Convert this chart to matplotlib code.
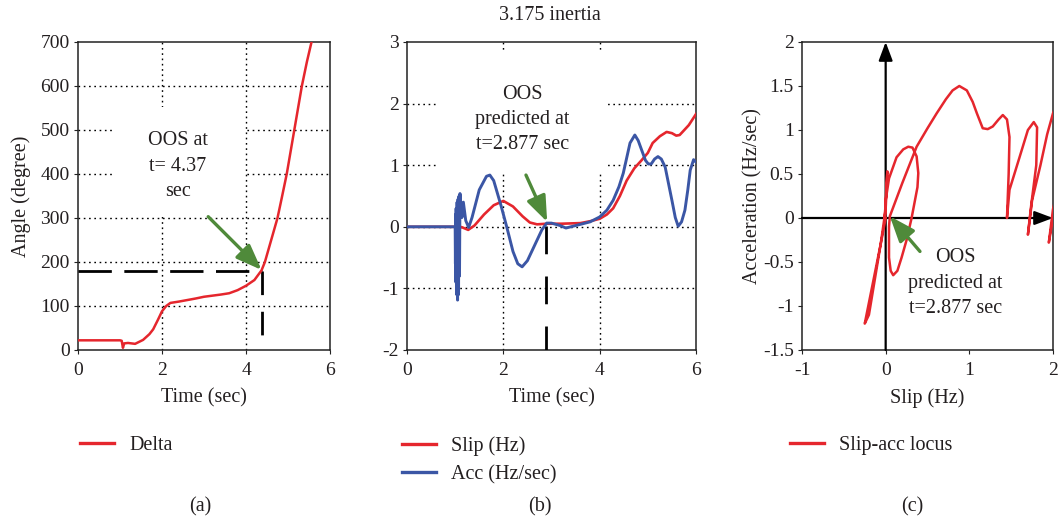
import matplotlib
matplotlib.use("Agg")
import matplotlib.pyplot as plt
from matplotlib.patches import Rectangle

plt.rcParams['font.family'] = ['Liberation Serif', 'DejaVu Serif']
plt.rcParams['font.size'] = 14
plt.rcParams['lines.scale_dashes'] = False
plt.rcParams['axes.unicode_minus'] = False

RED = '#e5262d'
BLUE = '#3b56a5'
GREEN = '#4f8a3a'
TXT = '#231f20'
FS = 14.5

# ---------------- data ----------------
# (a) rotor angle
delta_t = [0, 0.5, 1.0, 1.04, 1.07, 1.1, 1.19, 1.36, 1.55, 1.7, 1.79, 1.9, 2.0, 2.1, 2.2,
           2.4, 2.8, 3.0, 3.4, 3.6, 3.8, 4.0, 4.2, 4.37, 4.45, 4.6, 4.75, 4.85,
           4.97, 5.06, 5.15, 5.24, 5.33, 5.45, 5.56, 5.62]
delta_deg = [22, 22, 22, 21, 5, 15, 16, 14, 23, 36, 47, 68, 88, 100, 107,
             110, 117, 121, 126, 129, 136, 146, 159, 181, 200, 250, 300, 345,
             400, 450, 500, 550, 600, 655, 700, 730]

# (b) slip and acceleration
slip_t = [0, 1.0, 1.1, 1.15, 1.27, 1.4, 1.6, 1.8, 2.0, 2.2, 2.4, 2.55, 2.7, 2.9,
          3.2, 3.6, 3.8, 4.0, 4.15, 4.28, 4.42, 4.56, 4.72, 4.87, 5.0, 5.1, 5.25,
          5.39, 5.5, 5.59, 5.66, 5.72, 5.85, 6.0]
slip_hz = [0, 0, 0, -0.01, -0.05, 0.02, 0.2, 0.35, 0.42, 0.33, 0.17, 0.07, 0.04, 0.05,
           0.05, 0.06, 0.09, 0.13, 0.2, 0.3, 0.5, 0.75, 0.95, 1.08, 1.2, 1.36, 1.47,
           1.54, 1.52, 1.48, 1.49, 1.54, 1.65, 1.83]

acc_t = [0, 1.0, 1.005, 1.01, 1.015, 1.02, 1.03, 1.04, 1.05, 1.06, 1.07, 1.08, 1.09,
         1.1, 1.14, 1.17, 1.22, 1.28,
         1.35, 1.5, 1.65, 1.72, 1.8, 1.95, 2.07, 2.2, 2.3, 2.39, 2.5, 2.65, 2.8, 2.9,
         3.0, 3.18, 3.3, 3.5, 3.8, 4.0, 4.15, 4.28, 4.4, 4.49, 4.63, 4.73, 4.8, 4.87,
         4.95, 5.01, 5.07, 5.14, 5.21, 5.28, 5.36, 5.43, 5.5, 5.57, 5.63, 5.7, 5.77,
         5.83, 5.88, 5.95, 6.0]
acc_hz_s = [0, 0, -0.6, 0.2, -0.9, 0.3, -1.1, 0.4, -1.19, 0.45, -1.1, 0.5, -0.8,
            0.54, 0.15, 0.4, 0.1, -0.01,
            0.15, 0.6, 0.82, 0.84, 0.75, 0.35, 0.0, -0.4, -0.6, -0.65, -0.55, -0.3, -0.05, 0.06,
            0.06, 0.02, -0.02, 0.02, 0.08, 0.16, 0.27, 0.43, 0.65, 0.87, 1.36, 1.49, 1.4, 1.25,
            1.08, 1.02, 1.02, 1.1, 1.14, 1.1, 0.97, 0.7, 0.43, 0.15, 0.01, 0.08, 0.27,
            0.6, 0.92, 1.09, 1.05]

# (c) slip-acceleration locus
locus_slip = [0.0, -0.05, -0.25, -0.2, -0.06, 0.0, 0.02, 0.0, -0.01, 0.0, 0.04, 0.13,
              0.21, 0.27, 0.32, 0.37, 0.39, 0.38, 0.35, 0.31, 0.25, 0.19, 0.14, 0.09,
              0.06, 0.04, 0.04, 0.05, 0.2, 0.37, 0.5, 0.61, 0.72,
              0.80, 0.88, 0.97, 1.04, 1.09, 1.16, 1.22, 1.28, 1.35, 1.40, 1.45, 1.48,
              1.47, 1.45, 1.48, 1.60, 1.70, 1.77, 1.81, 1.80, 1.74, 1.70, 1.75, 1.85,
              1.93, 2.0, 2.05, 2.1, 2.05, 2.0, 1.95, 2.0, 2.05]
locus_acc = [0.0, -0.25, -1.2, -1.1, -0.3, 0.1, 0.53, 0.2, 0.0, 0.2, 0.45, 0.69,
             0.78, 0.81, 0.8, 0.7, 0.51, 0.35, 0.2, 0.0, -0.25, -0.45, -0.6, -0.65,
             -0.6, -0.45, -0.1, 0.02, 0.4, 0.81, 1.02, 1.19, 1.35,
             1.45, 1.5, 1.45, 1.32, 1.19, 1.02, 1.01, 1.04, 1.12, 1.17, 1.12, 0.92,
             0.5, 0.0, 0.32, 0.69, 1.0, 1.09, 1.03, 0.6, 0.15, -0.19, 0.2, 0.6,
             0.95, 1.19, 1.3, 0.8, 0.3, 0.1, -0.28, 0.0, 0.3]

oos_a = (4.37, 180)
oos_b = 2.877

# ---------------- figure ----------------
W, H = 1060, 521
fig = plt.figure(figsize=(W / 100, H / 100), dpi=100)


def add_ax(l, r, t=42, b=350):
    return fig.add_axes([l / W, (H - b) / H, (r - l) / W, (b - t) / H])


axa = add_ax(78, 330)
axb = add_ax(407, 696)
axc = add_ax(802, 1053)

grid_kw = dict(color='k', linewidth=1.0, linestyle=(0, (1.2, 2.6)))


def hide_edge_grid(ax):
    for axis, lims in ((ax.xaxis, ax.get_xlim()), (ax.yaxis, ax.get_ylim())):
        locs = axis.get_majorticklocs()
        for tick, loc in zip(axis.get_major_ticks(), locs):
            if abs(loc - lims[0]) < 1e-9 or abs(loc - lims[1]) < 1e-9:
                tick.gridline.set_visible(False)


for ax in (axa, axb, axc):
    for s in ax.spines.values():
        s.set_linewidth(1.1)
        s.set_color('#222222')
    ax.tick_params(direction='out', length=3, width=0.8, colors='#222222',
                   labelcolor=TXT, labelsize=14, pad=3)
    ax.tick_params(axis='x', pad=5.5)
    ax.set_axisbelow(True)

arrow_green = dict(arrowstyle='-|>,head_length=1.3,head_width=0.5', mutation_scale=12,
                   color=GREEN, lw=2.4, shrinkA=0, shrinkB=0)
LS = 1.45

# ---- (a)
axa.plot(delta_t, delta_deg, color=RED, lw=1.8, label='Delta', zorder=3)
axa.set_xlim(0, 6)
axa.set_ylim(0, 700)
axa.set_xticks([0, 2, 4, 6])
axa.set_yticks(range(0, 701, 100))
axa.grid(True, **grid_kw)
hide_edge_grid(axa)
axa.add_patch(Rectangle((0.87, 302), 3.08, 250, facecolor='white', edgecolor='none', zorder=1))
axa.plot([0, oos_a[0]], [oos_a[1], oos_a[1]], color='k', lw=2, dashes=(24, 9), zorder=2.6)
axa.plot([oos_a[0], oos_a[0]], [oos_a[1], 23], color='k', lw=2, dashes=(17, 12), zorder=2.6)
axa.text(2.38, 418, 'OOS at\nt= 4.37\nsec', ha='center', va='center', fontsize=FS,
         linespacing=LS, color=TXT)
axa.annotate('', xy=(oos_a[0], oos_a[1] + 2), xytext=(3.1, 303), arrowprops=arrow_green, zorder=4)
axa.set_xlabel('Time (sec)', fontsize=FS, color=TXT, labelpad=7)
axa.set_ylabel('Angle (degree)', fontsize=FS, color=TXT, labelpad=7)

# ---- (b)
axb.plot(slip_t, slip_hz, color=RED, lw=1.9, label='Slip (Hz)', zorder=3)
axb.plot(acc_t, acc_hz_s, color=BLUE, lw=2.1, label='Acc (Hz/sec)', zorder=3.1)
axb.set_xlim(0, 6)
axb.set_ylim(-2, 3)
axb.set_xticks([0, 2, 4, 6])
axb.set_yticks([-2, -1, 0, 1, 2, 3])
axb.grid(True, **grid_kw)
hide_edge_grid(axb)
axb.add_patch(Rectangle((0.62, 0.87), 3.53, 2.0, facecolor='white', edgecolor='none', zorder=1))
axb.plot([oos_b, oos_b], [0.02, -2], color='k', lw=2, dashes=(20, 16), zorder=2.6)
axb.text(2.39, 1.74, 'OOS\npredicted at\nt=2.877 sec', ha='center', va='center', fontsize=FS,
         linespacing=LS, color=TXT)
axb.annotate('', xy=(2.91, 0.08), xytext=(2.47, 0.84), arrowprops=arrow_green, zorder=4)
axb.set_xlabel('Time (sec)', fontsize=FS, color=TXT, labelpad=7)

# ---- (c)
axc.plot(locus_slip, locus_acc, color=RED, lw=1.8, label='Slip-acc locus', zorder=3)
axc.set_xlim(-1, 2)
axc.set_ylim(-1.5, 2)
axc.set_xticks([-1, 0, 1, 2])
axc.set_yticks([-1.5, -1, -0.5, 0, 0.5, 1, 1.5, 2])
axc.set_yticklabels(['-1.5', '-1', '-0.5', '0', '0.5', '1', '1.5', '2'])
axc.set_xticklabels(['-1', '0', '1', '2'])
axc.annotate('', xy=(0, 2), xytext=(0, -1.5),
             arrowprops=dict(arrowstyle='-|>,head_length=0.8,head_width=0.3',
                             color='k', lw=1.6, shrinkA=0, shrinkB=0), zorder=2.8)
axc.annotate('', xy=(2, 0), xytext=(-1, 0),
             arrowprops=dict(arrowstyle='-|>,head_length=0.8,head_width=0.3',
                             color='k', lw=1.6, shrinkA=0, shrinkB=0), zorder=2.8)
axc.text(0.83, -0.74, 'OOS\npredicted at\nt=2.877 sec', ha='center', va='center', fontsize=FS,
         linespacing=LS, color=TXT)
axc.annotate('', xy=(0.05, 0.02), xytext=(0.41, -0.38), arrowprops=arrow_green, zorder=4)
axc.set_xlabel('Slip (Hz)', fontsize=FS, color=TXT, labelpad=7)
axc.set_ylabel('Acceleration (Hz/sec)', fontsize=FS, color=TXT, labelpad=0)

# ---- legends
leg_kw = dict(loc='upper left', frameon=False, borderpad=0, borderaxespad=0,
              handlelength=1.7, handletextpad=0.75, labelspacing=0.45, fontsize=FS,
              bbox_transform=fig.transFigure, labelcolor=TXT)
for ax, x0 in ((axa, 80), (axb, 402), (axc, 790)):
    lg = ax.legend(bbox_to_anchor=(x0 / W, (H - 436) / H), **leg_kw)
    for ln in lg.get_lines():
        ln.set_linewidth(2.4)

fig.text(550 / W, 1 - 15 / H, '3.175 inertia', ha='center', va='center', fontsize=FS, color=TXT)
for lab, x in (('(a)', 200), ('(b)', 540), ('(c)', 912)):
    fig.text(x / W, 1 - 507 / H, lab, ha='center', va='center', fontsize=FS, color=TXT)

fig.savefig('out.png', dpi=100)
